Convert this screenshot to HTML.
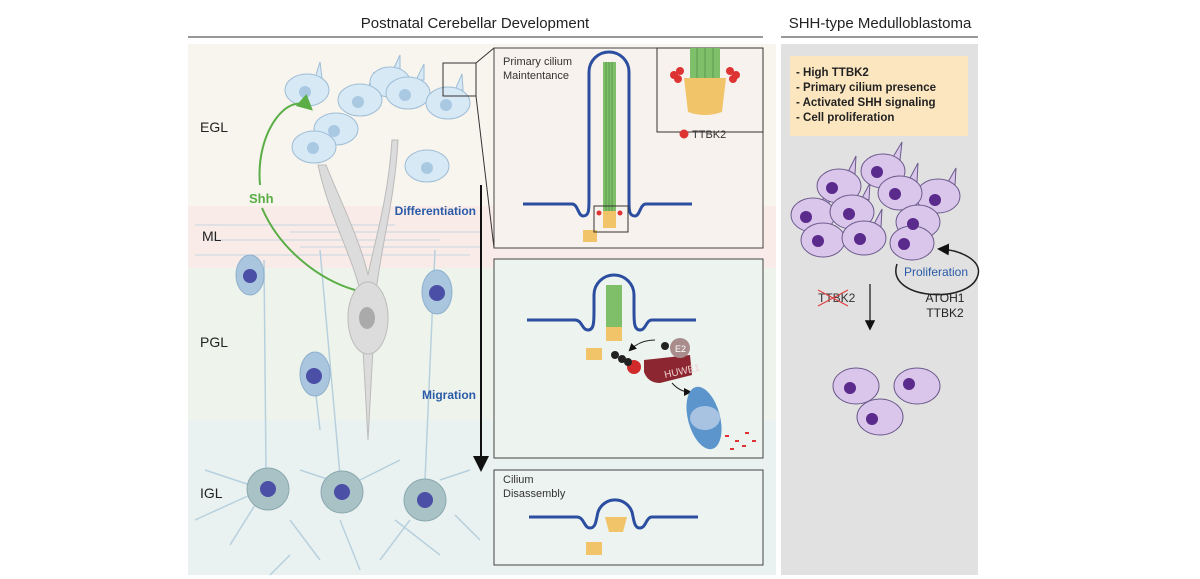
<!DOCTYPE html>
<html><head><meta charset="utf-8"><style>
body{margin:0;background:#fff;}
svg{display:block;font-family:"Liberation Sans",Arial,sans-serif;}
</style></head><body>
<svg width="1200" height="579" viewBox="0 0 1200 579" xmlns="http://www.w3.org/2000/svg">
<defs>
<marker id="ah" markerWidth="8" markerHeight="8" refX="6" refY="4" orient="auto"><path d="M0,0 L8,4 L0,8 z" fill="#111"/></marker>
<marker id="ag" markerWidth="8" markerHeight="8" refX="6" refY="4" orient="auto"><path d="M0,0 L8,4 L0,8 z" fill="#5aae45"/></marker>
</defs>
<text x="475" y="28" font-size="15" text-anchor="middle" fill="#222">Postnatal Cerebellar Development</text>
<line x1="188" y1="37" x2="763" y2="37" stroke="#777" stroke-width="1.5"/>
<text x="880" y="28" font-size="15" text-anchor="middle" fill="#222">SHH-type Medulloblastoma</text>
<line x1="781" y1="37" x2="978" y2="37" stroke="#777" stroke-width="1.5"/>
<rect x="188" y="44" width="588" height="162" fill="#f8f4ee"/>
<rect x="188" y="206" width="588" height="62" fill="#f9ece8"/>
<rect x="188" y="268" width="588" height="152" fill="#eef4ec"/>
<rect x="188" y="420" width="588" height="155" fill="#e9f2f1"/>
<rect x="781" y="44" width="197" height="531" fill="#e1e1e1"/>
<g stroke="#c8d6e2" stroke-width="1">
<line x1="195" y1="225" x2="395" y2="225"/><line x1="290" y1="232" x2="480" y2="232"/>
<line x1="210" y1="240" x2="440" y2="240"/><line x1="195" y1="255" x2="470" y2="255"/>
<line x1="300" y1="247" x2="480" y2="247"/>
</g>
<text x="200" y="132" font-size="14" fill="#222">EGL</text>
<text x="202" y="241" font-size="14" fill="#222">ML</text>
<text x="200" y="347" font-size="14" fill="#222">PGL</text>
<text x="200" y="498" font-size="14" fill="#222">IGL</text>
<g fill="#dcdcdc" stroke="#bbb">
<path d="M318,165 C330,220 355,260 362,300 L375,300 C380,250 395,200 398,140 L392,140 C388,200 375,240 368,275 C360,240 340,200 326,165 Z"/>
<path d="M362,330 L368,440 L374,330 Z"/>
<ellipse cx="368" cy="318" rx="20" ry="36"/>
</g>
<ellipse cx="367" cy="318" rx="8" ry="11" fill="#aaa"/>
<g stroke="#b8d0de" stroke-width="1.5" fill="none">
<path d="M195,520 L250,495 M230,545 L255,505 M290,520 L320,560 M300,470 L330,480 M360,480 L400,460 M395,520 L440,555 M440,480 L470,470 M455,515 L480,540 M205,470 L250,485 M290,555 L270,575 M340,520 L360,570 M410,520 L380,560"/>
<line x1="264" y1="260" x2="266" y2="470"/><line x1="320" y1="250" x2="340" y2="475"/><line x1="435" y1="250" x2="425" y2="480"/>
<line x1="316" y1="395" x2="320" y2="430"/>
</g>
<g fill="#d8e9f6" stroke="#9dbdd6">
<path d="M315,78 L320,62 L322,78 Z M393,70 L400,55 L400,70 Z M416,80 L424,64 L424,80 Z M455,90 L462,74 L463,90 Z M368,88 L374,72 L376,88 Z"/>
<ellipse cx="307" cy="90" rx="22" ry="16"/><ellipse cx="390" cy="82" rx="20" ry="15"/>
<ellipse cx="360" cy="100" rx="22" ry="16"/><ellipse cx="408" cy="93" rx="22" ry="16"/>
<ellipse cx="448" cy="103" rx="22" ry="16"/><ellipse cx="336" cy="129" rx="22" ry="16"/>
<ellipse cx="314" cy="147" rx="22" ry="16"/><ellipse cx="427" cy="166" rx="22" ry="16"/>
</g>
<g fill="#a9c8e2"><circle cx="305" cy="92" r="6"/><circle cx="358" cy="102" r="6"/><circle cx="405" cy="95" r="6"/><circle cx="446" cy="105" r="6"/><circle cx="334" cy="131" r="6"/><circle cx="313" cy="148" r="6"/><circle cx="427" cy="168" r="6"/></g>
<rect x="443" y="63" width="33" height="33" fill="none" stroke="#333"/>
<line x1="476" y1="63" x2="494" y2="48" stroke="#333"/><line x1="476" y1="96" x2="494" y2="248" stroke="#333"/>
<path d="M260,185 C255,130 290,90 310,108" stroke="#5aae45" stroke-width="2" fill="none" marker-end="url(#ag)"/>
<path d="M262,208 C280,250 320,280 355,290" stroke="#5aae45" stroke-width="2" fill="none"/>
<text x="249" y="203" font-size="13" fill="#5aae45" font-weight="bold">Shh</text>
<g fill="#a9c6de" stroke="#8fb0cc">
<ellipse cx="250" cy="275" rx="14" ry="20"/><ellipse cx="315" cy="374" rx="15" ry="22"/><ellipse cx="437" cy="292" rx="15" ry="22"/>
</g>
<g fill="#4c4fa6"><circle cx="250" cy="276" r="7"/><circle cx="314" cy="376" r="8"/><circle cx="437" cy="293" r="8"/></g>
<g fill="#a8c2c6" stroke="#8aa8ae">
<circle cx="268" cy="489" r="21"/><circle cx="342" cy="492" r="21"/><circle cx="425" cy="500" r="21"/>
</g>
<g fill="#4c4fa6"><circle cx="268" cy="489" r="8"/><circle cx="342" cy="492" r="8"/><circle cx="425" cy="500" r="8"/></g>
<line x1="481" y1="185" x2="481" y2="468" stroke="#111" stroke-width="2" marker-end="url(#ah)"/>
<text x="476" y="215" font-size="12" fill="#2a5aa8" font-weight="bold" text-anchor="end">Differentiation</text>
<text x="476" y="399" font-size="12" fill="#2a5aa8" font-weight="bold" text-anchor="end">Migration</text>
<rect x="494" y="48" width="269" height="200" fill="#f8f2ee" stroke="#444"/>
<text x="503" y="65" font-size="11" fill="#333">Primary cilium</text>
<text x="503" y="79" font-size="11" fill="#333">Maintentance</text>
<path d="M523,204 L572,204 C578,204 578,216 583,216 C589,216 589,210 589,200 L589,72 A20,20 0 0 1 629,72 L629,200 C629,210 629,216 635,216 C640,216 640,204 646,204 L692,204" stroke="#2b4ea0" stroke-width="3" fill="none"/>
<rect x="603" y="62" width="13" height="150" fill="#7fbf6a"/>
<g stroke="#5a9a4a"><line x1="606" y1="62" x2="606" y2="212"/><line x1="609" y1="62" x2="609" y2="212"/><line x1="612" y1="62" x2="612" y2="212"/></g>
<rect x="603" y="211" width="13" height="17" fill="#f2c46a"/>
<rect x="583" y="230" width="14" height="12" fill="#f2c46a"/>
<circle cx="599" cy="213" r="2.5" fill="#d33"/><circle cx="620" cy="213" r="2.5" fill="#d33"/>
<rect x="594" y="206" width="34" height="26" fill="none" stroke="#333"/>
<rect x="657" y="48" width="106" height="84" fill="#f8f2ee" stroke="#333"/>
<rect x="690" y="48" width="30" height="30" fill="#7fbf6a"/>
<g stroke="#5a9a4a"><line x1="697" y1="48" x2="697" y2="78"/><line x1="705" y1="48" x2="705" y2="78"/><line x1="713" y1="48" x2="713" y2="78"/></g>
<path d="M684,78 L726,78 L722,112 Q705,118 688,112 Z" fill="#f2c46a"/>
<g fill="#d33"><circle cx="674" cy="75" r="4"/><circle cx="680" cy="71" r="4"/><circle cx="678" cy="79" r="4"/><circle cx="736" cy="75" r="4"/><circle cx="730" cy="71" r="4"/><circle cx="733" cy="79" r="4"/></g>
<circle cx="684" cy="134" r="4.5" fill="#d33"/>
<text x="692" y="138" font-size="11" fill="#333">TTBK2</text>
<rect x="494" y="259" width="269" height="199" fill="#edf3ee" stroke="#444"/>
<path d="M527,320 L575,320 C582,320 582,330 588,330 C594,330 594,322 594,310 L594,295 A20,20 0 0 1 634,295 L634,310 C634,322 634,330 640,330 C646,330 646,320 652,320 L696,320" stroke="#2b4ea0" stroke-width="3" fill="none"/>
<rect x="606" y="285" width="16" height="42" fill="#7fbf6a"/>
<rect x="606" y="327" width="16" height="14" fill="#f2c46a"/>
<rect x="586" y="348" width="16" height="12" fill="#f2c46a"/>
<circle cx="634" cy="367" r="7" fill="#d02a2a"/>
<g fill="#222"><circle cx="615" cy="355" r="4"/><circle cx="622" cy="359" r="4"/><circle cx="628" cy="362" r="4"/><circle cx="665" cy="346" r="4"/></g>
<path d="M644,360 L690,355 L692,375 L660,383 Q648,383 644,372 Z" fill="#8c2630"/>
<text x="665" y="378" font-size="10" fill="#f0d0d0" transform="rotate(-12 665 378)">HUWE1</text>
<circle cx="680" cy="348" r="10" fill="#a98c8c"/>
<text x="675" y="352" font-size="9" fill="#fff">E2</text>
<path d="M655,340 Q640,340 630,350" stroke="#222" fill="none" marker-end="url(#ah)"/>
<path d="M672,383 Q680,392 690,392" stroke="#222" fill="none" marker-end="url(#ah)"/>
<ellipse cx="704" cy="418" rx="16" ry="32" fill="#5b95cc" transform="rotate(-15 704 418)"/>
<ellipse cx="705" cy="418" rx="15" ry="12" fill="#a8c3e2"/>
<g fill="#d33"><rect x="725" y="435" width="4" height="2"/><rect x="735" y="440" width="4" height="2"/><rect x="745" y="432" width="4" height="2"/><rect x="742" y="445" width="4" height="2"/><rect x="752" y="440" width="4" height="2"/><rect x="730" y="448" width="4" height="2"/></g>
<rect x="494" y="470" width="269" height="95" fill="#edf3f1" stroke="#444"/>
<text x="503" y="483" font-size="11" fill="#333">Cilium</text>
<text x="503" y="497" font-size="11" fill="#333">Disassembly</text>
<path d="M529,517 L577,517 C584,517 584,528 590,528 C596,528 596,520 598,512 A18,18 0 0 1 632,512 C634,520 634,528 640,528 C646,528 646,517 652,517 L698,517" stroke="#2b4ea0" stroke-width="3" fill="none"/>
<path d="M605,517 L627,517 L623,532 L609,532 Z" fill="#f2c46a"/>
<rect x="586" y="542" width="16" height="13" fill="#f2c46a"/>
<rect x="790" y="56" width="178" height="80" fill="#fbe6bf"/>
<g font-size="11.5" fill="#222" font-weight="bold">
<text x="796" y="76">- High TTBK2</text><text x="796" y="91">- Primary cilium presence</text>
<text x="796" y="106">- Activated SHH signaling</text><text x="796" y="121">- Cell proliferation</text>
</g>
<g fill="#d9c6ea" stroke="#6b5a8c">
<path d="M848,172 L856,156 L855,174 Z M893,157 L902,142 L900,160 Z M948,182 L956,168 L955,185 Z M910,178 L918,163 L917,182 Z M862,198 L870,183 L869,200 Z M928,208 L936,193 L935,210 Z M822,201 L830,186 L829,203 Z M874,224 L882,209 L881,227 Z M922,229 L930,214 L929,232 Z"/>
<ellipse cx="839" cy="186" rx="22" ry="17"/><ellipse cx="883" cy="171" rx="22" ry="17"/>
<ellipse cx="938" cy="196" rx="22" ry="17"/><ellipse cx="900" cy="193" rx="22" ry="17"/>
<ellipse cx="813" cy="215" rx="22" ry="17"/><ellipse cx="852" cy="212" rx="22" ry="17"/>
<ellipse cx="918" cy="222" rx="22" ry="17"/><ellipse cx="823" cy="240" rx="22" ry="17"/>
<ellipse cx="864" cy="238" rx="22" ry="17"/><ellipse cx="912" cy="243" rx="22" ry="17"/>
<ellipse cx="856" cy="386" rx="23" ry="18"/><ellipse cx="917" cy="386" rx="23" ry="18"/><ellipse cx="880" cy="417" rx="23" ry="18"/>
</g>
<g fill="#5a2a8c">
<circle cx="832" cy="188" r="6"/><circle cx="877" cy="172" r="6"/><circle cx="935" cy="200" r="6"/><circle cx="895" cy="194" r="6"/>
<circle cx="806" cy="217" r="6"/><circle cx="849" cy="214" r="6"/><circle cx="913" cy="224" r="6"/><circle cx="818" cy="241" r="6"/>
<circle cx="860" cy="239" r="6"/><circle cx="904" cy="244" r="6"/><circle cx="850" cy="388" r="6"/><circle cx="909" cy="384" r="6"/><circle cx="872" cy="419" r="6"/>
</g>
<path d="M897,264 C885,300 970,305 978,275 C982,260 960,250 940,249" stroke="#222" stroke-width="1.5" fill="none" marker-end="url(#ah)"/>
<text x="936" y="276" font-size="12" fill="#2a5aa8" text-anchor="middle">Proliferation</text>
<text x="818" y="302" font-size="12" fill="#333">TTBK2</text>
<path d="M818,290 L848,306 M818,306 L848,290" stroke="#e04040" stroke-width="1.2"/>
<line x1="870" y1="284" x2="870" y2="328" stroke="#222" stroke-width="1.3" marker-end="url(#ah)"/>
<text x="945" y="302" font-size="12" fill="#222" text-anchor="middle">ATOH1</text>
<text x="945" y="317" font-size="12" fill="#222" text-anchor="middle">TTBK2</text>
</svg>
</body></html>
